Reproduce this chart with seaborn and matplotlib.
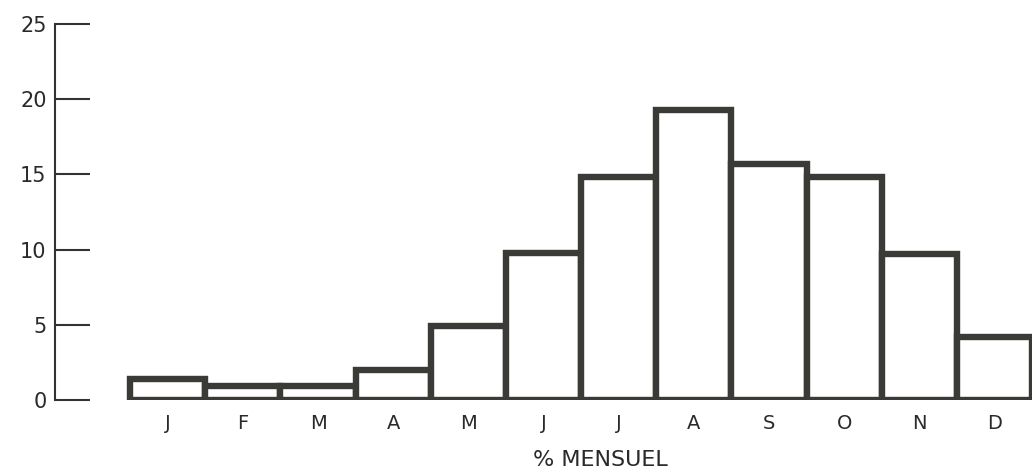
import pandas as pd
import seaborn as sns
import matplotlib.pyplot as plt

# Données
mois = ['J', 'F', 'M', 'A', 'M', 'J', 'J', 'A', 'S', 'O', 'N', 'D']
pourcentage = [1.4, 0.9, 0.9, 2.0, 4.9, 9.8, 14.8, 19.3, 15.7, 14.8, 9.7, 4.2]
graduations = [0, 5, 10, 15, 20, 25]

df = pd.DataFrame({'pos': range(len(mois)), 'pct': pourcentage})

sns.set_style('white')
plt.rcParams['font.family'] = ['DejaVu Sans']

encre = '#3a3a36'

fig = plt.figure(figsize=(10.32, 4.74), dpi=100)
ax = fig.add_axes([55 / 1032, 74 / 474, 977 / 1032, 376 / 474])

sns.barplot(data=df, x='pos', y='pct', width=1, color='white',
            edgecolor=encre, linewidth=4.6, saturation=1, ax=ax)

ax.set_xlim(-1.5, 11.5)
ax.set_ylim(0, 25)
ax.set_yticks(graduations)
ax.set_yticklabels([str(g) for g in graduations], fontsize=15, color='#2a2a2a')
ax.set_xticks(range(len(mois)))
ax.set_xticklabels(mois, fontsize=14, color='#2a2a2a')
ax.tick_params(axis='y', left=True, direction='in', length=25, width=1.5,
               color='#333333', pad=6)
ax.tick_params(axis='x', bottom=False, length=0, pad=10)

for s in ['top', 'right', 'bottom']:
    ax.spines[s].set_visible(False)
ax.spines['left'].set_linewidth(1.5)
ax.spines['left'].set_color('#333333')

ax.set_ylabel('')
ax.set_xlabel('% MENSUEL', fontsize=16, color='#2a2a2a')
ax.xaxis.set_label_coords((600 - 55) / 977, (400 - 460) / 376)
ax.xaxis.label.set_verticalalignment('center')

fig.savefig('out.png', dpi=100, facecolor='white')
